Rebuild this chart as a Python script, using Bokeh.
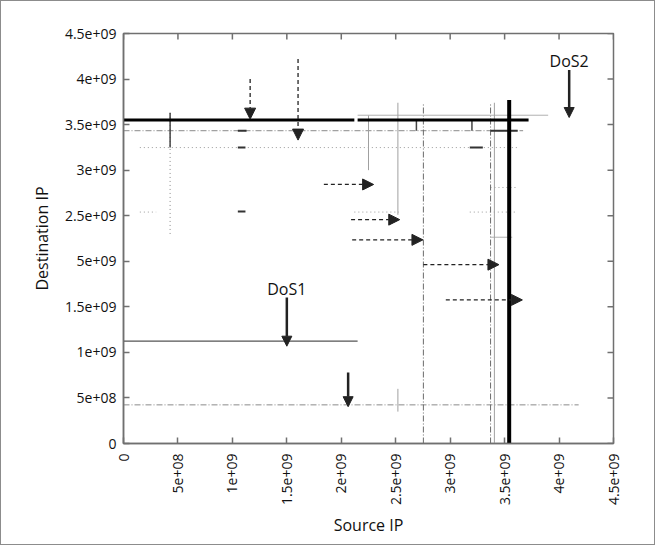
import math
from bokeh.plotting import figure
from bokeh.models import Range1d, FixedTicker, Arrow, NormalHead, ColumnDataSource
from bokeh.core.properties import value
from bokeh.embed import file_html
from bokeh.resources import INLINE

# ---- axis ticks / labels ----
tick_values = [0.0, 5e8, 1e9, 1.5e9, 2e9, 2.5e9, 3e9, 3.5e9, 4e9, 4.5e9]
x_tick_labels = ["0", "5e+08", "1e+09", "1.5e+09", "2e+09", "2.5e+09", "3e+09", "3.5e+09", "4e+09", "4.5e+09"]
y_tick_labels = ["0", "5e+08", "1e+09", "1.5e+09", "5e+09", "2.5e+09", "3e+09", "3.5e+09", "4e+09", "4.5e+09"]
axis_max = 4.5e9

# ---- heavy traffic lines (DoS2 sweep) ----
heavy_h_y = [3.55e9, 3.55e9]
heavy_h_x0 = [0.0, 2.15e9]
heavy_h_x1 = [2.12e9, 3.72e9]
heavy_v_x = [3.542e9]
heavy_v_y0 = [0.0]
heavy_v_y1 = [3.77e9]

# ---- DoS1 horizontal line ----
dos1_y = [1.124e9]
dos1_x0 = [0.0]
dos1_x1 = [2.15e9]

# ---- faint solid lines ----
faint_h_y = [3.603e9, 2.264e9]
faint_h_x0 = [2.15e9, 3.37e9]
faint_h_x1 = [3.9e9, 3.57e9]
faint_v_x = [2.25e9, 2.52e9, 3.406e9, 2.52e9]
faint_v_y0 = [3.0e9, 2.51e9, 0.0, 0.35e9]
faint_v_y1 = [3.6e9, 3.74e9, 3.74e9, 0.6e9]

# ---- dash-dot lines ----
dd_h_y = [3.433e9, 0.424e9]
dd_h_x0 = [0.0, 0.0]
dd_h_x1 = [3.67e9, 4.18e9]
dd_v_x = [2.754e9, 3.371e9]
dd_v_y0 = [0.0, 0.0]
dd_v_y1 = [3.74e9, 3.74e9]

# ---- sparse dotted rows / columns ----
dot_h_y = [3.248e9, 2.54e9, 2.54e9, 2.54e9, 2.81e9]
dot_h_x0 = [0.15e9, 0.15e9, 2.12e9, 3.18e9, 3.37e9]
dot_h_x1 = [3.64e9, 0.3e9, 2.53e9, 3.62e9, 3.62e9]
dot_v_x = [0.428e9]
dot_v_y0 = [2.3e9]
dot_v_y1 = [3.63e9]

# ---- short dark marks ----
mark_h_y = [3.433e9, 3.433e9, 3.248e9, 2.547e9, 3.248e9]
mark_h_x0 = [1.05e9, 3.37e9, 1.05e9, 1.05e9, 3.18e9]
mark_h_x1 = [1.13e9, 3.62e9, 1.12e9, 1.12e9, 3.3e9]
mark_v_x = [0.428e9, 2.69e9, 3.2e9]
mark_v_y0 = [3.25e9, 3.433e9, 3.433e9]
mark_v_y1 = [3.63e9, 3.55e9, 3.55e9]

# ---- dashed arrows ----
da_x0 = [1.163e9, 1.603e9, 1.84e9, 2.09e9, 2.10e9, 2.754e9, 2.96e9]
da_y0 = [4.0e9, 4.22e9, 2.843e9, 2.457e9, 2.235e9, 1.963e9, 1.576e9]
da_x1 = [1.163e9, 1.603e9, 2.297e9, 2.537e9, 2.75e9, 3.448e9, 3.663e9]
da_y1 = [3.56e9, 3.33e9, 2.843e9, 2.457e9, 2.235e9, 1.963e9, 1.576e9]

# ---- solid arrows ----
sa_x0 = [1.5e9, 2.063e9, 4.093e9]
sa_y0 = [1.602e9, 0.78e9, 4.10e9]
sa_x1 = [1.5e9, 2.063e9, 4.093e9]
sa_y1 = [1.068e9, 0.404e9, 3.578e9]

# ---- annotations ----
label_x = [1.5e9, 4.093e9]
label_y = [1.697e9, 4.2e9]
label_text = ["DoS1", "DoS2"]

FONT = "Open Sans"
FRAME = "#707070"

p = figure(width=655, height=545,
           x_range=Range1d(0, axis_max), y_range=Range1d(0, axis_max),
           output_backend="svg", toolbar_location=None,
           min_border_left=122, min_border_right=43,
           min_border_top=32, min_border_bottom=103)
p.grid.visible = False
p.outline_line_color = FRAME
p.outline_line_width = 1.5
p.background_fill_color = "white"
p.border_fill_color = "white"
p.styles = {"border": "1px solid #8c8c8c"}

for ax, labels in ((p.xaxis[0], x_tick_labels), (p.yaxis[0], y_tick_labels)):
    ax.ticker = FixedTicker(ticks=tick_values)
    ax.minor_tick_line_color = None
    ax.major_tick_in = 6
    ax.major_tick_out = 0
    ax.major_tick_line_color = FRAME
    ax.major_tick_line_width = 1.5
    ax.axis_line_color = FRAME
    ax.axis_line_width = 1.5
    ax.major_label_overrides = {v: s for v, s in zip(tick_values, labels)}
    ax.major_label_text_font = FONT
    ax.major_label_text_font_size = "14px"
    ax.major_label_text_color = "#111111"
    ax.axis_label_text_font = FONT
    ax.axis_label_text_font_size = "16px"
    ax.axis_label_text_font_style = "normal"
    ax.axis_label_text_color = "#111111"

p.xaxis.axis_label = "Source IP"
p.yaxis.axis_label = "Destination IP"
p.xaxis.major_label_orientation = math.pi / 2
p.xaxis.major_label_standoff = 10
p.xaxis.axis_label_standoff = 6
p.yaxis.major_label_standoff = 7
p.yaxis.axis_label_standoff = 9

# mirrored inward ticks on top and right edges (clipped to the frame)
p.scatter(x=tick_values, y=[axis_max] * len(tick_values), marker="dash", angle=math.pi / 2,
          size=12, line_color=FRAME, line_width=1.5)
p.scatter(x=[axis_max] * len(tick_values), y=tick_values, marker="dash",
          size=12, line_color=FRAME, line_width=1.5)

# lines
p.segment(x0=dot_h_x0, y0=dot_h_y, x1=dot_h_x1, y1=dot_h_y,
          line_color="#9a9a9a", line_width=1, line_dash="1 3")
p.segment(x0=dot_v_x, y0=dot_v_y0, x1=dot_v_x, y1=dot_v_y1,
          line_color="#8a8a8a", line_width=1, line_dash="1 3")
p.segment(x0=dd_h_x0, y0=dd_h_y, x1=dd_h_x1, y1=dd_h_y,
          line_color="#8a8a8a", line_width=1, line_dash="6 2 1 2")
p.segment(x0=dd_v_x, y0=dd_v_y0, x1=dd_v_x, y1=dd_v_y1,
          line_color="#6a6a6a", line_width=1, line_dash="6 2 1 2")
p.segment(x0=faint_h_x0, y0=faint_h_y, x1=faint_h_x1, y1=faint_h_y,
          line_color="#b0b0b0", line_width=1)
p.segment(x0=faint_v_x, y0=faint_v_y0, x1=faint_v_x, y1=faint_v_y1,
          line_color="#a0a0a0", line_width=1)
p.segment(x0=mark_h_x0, y0=mark_h_y, x1=mark_h_x1, y1=mark_h_y,
          line_color="#333333", line_width=2)
p.segment(x0=mark_v_x, y0=mark_v_y0, x1=mark_v_x, y1=mark_v_y1,
          line_color="#444444", line_width=1.5)
p.segment(x0=dos1_x0, y0=dos1_y, x1=dos1_x1, y1=dos1_y,
          line_color="#555555", line_width=1.3)
p.segment(x0=heavy_h_x0, y0=heavy_h_y, x1=heavy_h_x1, y1=heavy_h_y,
          line_color="#000000", line_width=3)
p.segment(x0=heavy_v_x, y0=heavy_v_y0, x1=heavy_v_x, y1=heavy_v_y1,
          line_color="#000000", line_width=4)

# arrows
da_src = ColumnDataSource(dict(x0=da_x0, y0=da_y0, x1=da_x1, y1=da_y1))
p.add_layout(Arrow(x_start="x0", y_start="y0", x_end="x1", y_end="y1", source=da_src,
                   line_color="#222222", line_width=1.3, line_dash="4 3",
                   end=NormalHead(size=11, fill_color="#222222", line_color="#222222", line_width=1)))
sa_src = ColumnDataSource(dict(x0=sa_x0, y0=sa_y0, x1=sa_x1, y1=sa_y1))
p.add_layout(Arrow(x_start="x0", y_start="y0", x_end="x1", y_end="y1", source=sa_src,
                   line_color="#222222", line_width=2.5,
                   end=NormalHead(size=10, fill_color="#222222", line_color="#222222", line_width=1)))

p.text(x=label_x, y=label_y, text=label_text, text_font=value(FONT),
       text_font_size="16px", text_align="center", text_baseline="alphabetic",
       text_color="#111111")

open("out.html", "w").write(file_html(p, INLINE))
